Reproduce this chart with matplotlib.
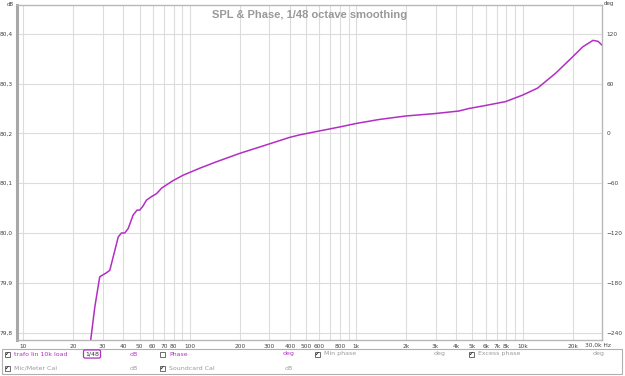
"""SPL & Phase plot, REW style."""

import matplotlib

matplotlib.use("Agg")
import matplotlib.pyplot as plt
from matplotlib.patches import Rectangle

W, H = 625, 376

FREQ = [
    24.5, 25.4, 26.9, 28.8, 31.6, 33.1, 35.5, 37.2, 38.9, 40.7, 42.7, 45.7,
    48.3, 50.1, 52.4, 55.0, 58.9, 63.2, 66.1, 67.7, 79.3, 91.2, 114.7, 144.7,
    200, 288.7, 398, 457, 602, 797, 1000, 1375, 1985, 3000, 4140, 4750, 5960,
    7920, 10000, 12300, 15800, 20000, 23000, 26500, 28400, 30300,
]
SPL = [
    79.70, 79.784, 79.851, 79.912, 79.920, 79.925, 79.965, 79.992, 80.000,
    80.000, 80.009, 80.036, 80.046, 80.046, 80.054, 80.066, 80.073, 80.079,
    80.086, 80.090, 80.105, 80.116, 80.130, 80.143, 80.160, 80.177, 80.192,
    80.197, 80.205, 80.213, 80.220, 80.228, 80.235, 80.240, 80.245, 80.250,
    80.256, 80.264, 80.277, 80.291, 80.321, 80.354, 80.374, 80.387, 80.385,
    80.376,
]

DB_TICKS = [79.8, 79.9, 80.0, 80.1, 80.2, 80.3, 80.4]
DEG_TICKS = [-240, -180, -120, -60, 0, 60, 120]
X_GRID = [10, 20, 30, 40, 50, 60, 70, 80, 90, 100, 200, 300, 400, 500, 600,
          700, 800, 900, 1000, 2000, 3000, 4000, 5000, 6000, 7000, 8000, 9000,
          10000, 20000]
X_LABELS = ["10", "20", "30", "40", "50", "60", "70", "80", "", "100", "200",
            "300", "400", "500", "600", "", "800", "", "1k", "2k", "3k", "4k",
            "5k", "6k", "7k", "8k", "", "10k", "20k"]

CURVE = "#b22ec4"
GREY = "#9a9a9a"
DB_LIM = (79.785, 80.458)


def px(x, y):
    return x / W, 1 - y / H


def _make_axes(fig):
    left, top = px(17, 5)
    right, bottom = px(602, 340)
    ax = fig.add_axes([left, bottom, right - left, top - bottom])
    ax.set_xscale("log")
    ax.set_xlim(9.17, 30000)
    ax.set_ylim(*DB_LIM)
    ax.set_xticks(X_GRID)
    ax.set_xticklabels(X_LABELS)
    ax.minorticks_off()
    ax.set_yticks(DB_TICKS)
    ax.set_yticklabels([f"{v:.1f}".replace(".", ",") for v in DB_TICKS])
    ax.tick_params(length=0, labelsize=4.2, colors="#444444", pad=3)
    ax.grid(True, color="#dcdcdc", linewidth=0.8)
    for spine in ax.spines.values():
        spine.set_color("#b8b8b8")
        spine.set_linewidth(1.0)
    ax.spines["left"].set_linewidth(2.2)
    ax.spines["left"].set_color("#a8a8a8")

    ax2 = ax.twinx()
    ax2.set_ylim((DB_LIM[0] - 80.2) * 600, (DB_LIM[1] - 80.2) * 600)
    ax2.set_yticks(DEG_TICKS)
    ax2.tick_params(length=0, labelsize=4.2, colors="#444444", pad=3)
    for spine in ax2.spines.values():
        spine.set_visible(False)
    return ax


def _legend(fig):
    x0, y0 = px(2, 374)
    x1, y1 = px(622, 349)
    fig.patches.append(Rectangle((x0, y0), x1 - x0, y1 - y0,
                                 transform=fig.transFigure, fill=False,
                                 edgecolor="#b0b0b0", linewidth=0.8))
    items = [
        (7, 354, "trafo lin 10k load", CURVE, True),
        (162, 354, "Phase", CURVE, False),
        (317, 354, "Min phase", GREY, True),
        (471, 354, "Excess phase", GREY, True),
        (7, 368, "Mic/Meter Cal", GREY, True),
        (162, 368, "Soundcard Cal", GREY, True),
    ]
    for x, y, label, color, checked in items:
        bx, by = px(x - 2.5, y + 2.5)
        fig.patches.append(Rectangle((bx, by), 5 / W, 5 / H,
                                     transform=fig.transFigure,
                                     facecolor="white", edgecolor="#555555",
                                     linewidth=0.6))
        if checked:
            fig.text(*px(x, y), "\u2714", fontsize=4, color="#333333",
                     ha="center", va="center")
        fig.text(*px(x + 7, y), label, fontsize=4.5, color=color,
                 va="center")
    units = [(134, 354, "dB", CURVE), (289, 354, "deg", CURVE),
             (440, 354, "deg", GREY), (599, 354, "deg", GREY),
             (134, 368, "dB", GREY), (289, 368, "dB", GREY)]
    for x, y, text, color in units:
        fig.text(*px(x, y), text, fontsize=4.5, color=color,
                 ha="center", va="center")
    fig.text(*px(92, 354), "1/48", fontsize=4.5, color="#333333",
             ha="center", va="center",
             bbox=dict(boxstyle="round,pad=0.25", facecolor="white",
                       edgecolor=CURVE, linewidth=0.9))


def main():
    fig = plt.figure(figsize=(W / 100, H / 100), dpi=100)
    ax = _make_axes(fig)
    ax.plot(FREQ, SPL, color=CURVE, linewidth=1.1)
    ax.text(0.5, 0.985, "SPL & Phase, 1/48 octave smoothing",
            transform=ax.transAxes, ha="center", va="top", fontsize=8,
            color="#999999", family="Liberation Sans", fontweight="bold")
    fig.text(*px(10, 4), "dB", fontsize=4, color="#444444",
             ha="center", va="center")
    fig.text(*px(609, 4), "deg", fontsize=4, color="#444444",
             ha="center", va="center")
    fig.text(*px(598, 345.5), "30,0k Hz", fontsize=4.2, color="#444444",
             ha="center", va="center")
    _legend(fig)
    fig.savefig("out.png", dpi=100)


main()
